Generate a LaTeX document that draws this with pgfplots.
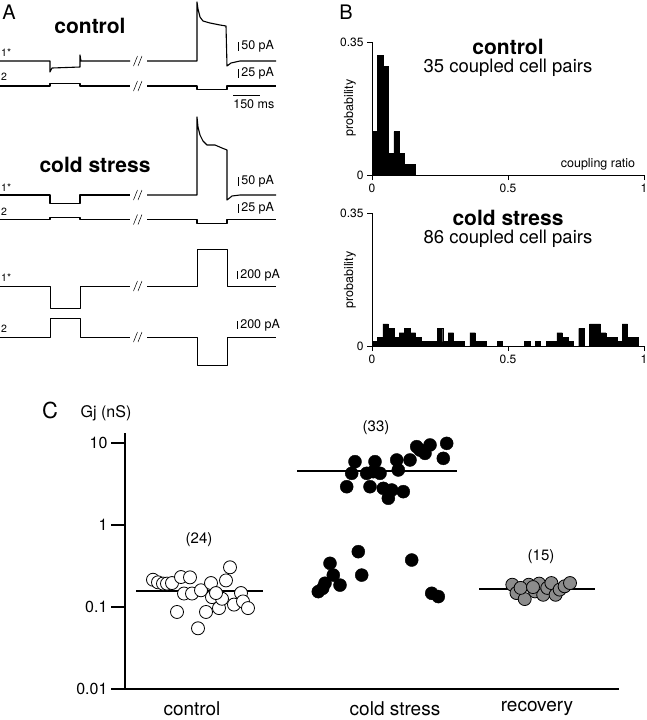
\documentclass[border=0pt]{standalone}
\usepackage{fontspec}
\setmainfont{TeX Gyre Heros}
\usepackage{pgfplots}
\pgfplotsset{compat=1.18}
\newcommand{\fs}[1]{\fontsize{#1}{#1}\selectfont}
\pgfplotsset{
  trace/.style={black, line width=1.1pt, mark=none, line join=round},
  hist/.style={scale only axis, width=272pt, height=133pt,
    xmin=0, xmax=1, ymin=0, ymax=0.35,
    axis x line*=bottom, axis y line*=left, axis line style={line width=1pt},
    xtick={0,0.5,1}, xticklabels={0,0.5,1}, ytick={0,0.35}, yticklabels={0,0.35},
    tick align=outside, major tick length=5pt, tick style={black, line width=1pt},
    ticklabel style={font=\fs{12}}, clip=false},
}

\begin{document}
\begin{tikzpicture}
\path[use as bounding box] (0pt,0pt) rectangle (646pt,-720pt);

% ---------------- A: traces (pixel units, y down)
\begin{axis}[at={(0pt,0pt)}, anchor=north west, scale only axis, width=280pt, height=380pt,
  xmin=0, xmax=280, ymin=0, ymax=380, y dir=reverse, hide axis, clip=false]
% control, cell 1*
\addplot[trace] coordinates {(0,61)(50,61)(50,72)(52,68)(80,67)(80,55)(81,61)(130,61)};
\addplot[trace] coordinates {(147,61)(197,61)(197,2)(198,9)(200,17)(203,21)(210,23)(220,25)(226,26)(227,66)(231,63)(240,61)(276,61)};
% control, cell 2
\addplot[trace] coordinates {(0,86)(50,86)(50,83.5)(80,83.5)(80,86)(130,86)};
\addplot[trace] coordinates {(147,86)(197,86)(197,89.5)(227,89.5)(227,86)(276,86)};
% cold stress, cell 1*
\addplot[trace] coordinates {(0,195)(50,195)(50,203.5)(80,203.5)(80,195)(130,195)};
\addplot[trace] coordinates {(147,195)(197,195)(197,117)(198,127)(200,135)(203,141)(207,145)(215,145)(222,148)(227,150)(227,200)(232,196)(240,195)(276,195)};
% cold stress, cell 2
\addplot[trace] coordinates {(0,219.5)(50,219.5)(50,217.5)(80,217.5)(80,219.5)(130,219.5)};
\addplot[trace] coordinates {(147,219.5)(197,219.5)(197,223.5)(227,223.5)(227,219.5)(276,219.5)};
% large steps
\addplot[trace, line width=0.7pt] coordinates {(0,286)(50,286)(50,308)(80,308)(80,286)(130,286)};
\addplot[trace, line width=0.7pt] coordinates {(147,286)(197,286)(197,249)(227,249)(227,286)(276,286)};
\addplot[trace, line width=0.7pt] coordinates {(0,337)(50,337)(50,318)(80,318)(80,337)(130,337)};
\addplot[trace, line width=0.7pt] coordinates {(147,337)(197,337)(197,365)(227,365)(227,337)(276,337)};
\end{axis}

\begin{scope}[x=1pt, y=1pt]
\foreach \yy in {61,86,195,219.5,286,337}{
  \draw[line width=0.5pt] (133.5,{-\yy-5}) -- (137.5,{-\yy+5});
  \draw[line width=0.5pt] (138,{-\yy-5}) -- (142,{-\yy+5});
}
\node[font=\fs{20}] at (9,-12) {A};
\node[font=\fs{21}\bfseries] at (90,-26) {control};
\node[font=\fs{21}\bfseries] at (95,-165) {cold stress};
\begin{scope}[every node/.style={anchor=west, inner sep=0, font=\fs{10.5}}]
\node at (1,-53) {1*};  \node at (1,-77) {2};
\node at (1,-188) {1*}; \node at (1,-212) {2};
\node at (1,-278) {1*}; \node at (1,-329) {2};
\end{scope}
\begin{scope}[line width=0.6pt, every node/.style={anchor=west, inner sep=0, font=\fs{12.5}}]
\draw (238,-42) -- (238,-51);   \node at (241,-46.5) {50 pA};
\draw (238,-69) -- (238,-78);   \node at (241,-73.5) {25 pA};
\draw (233,-95) -- (260,-95);   \node at (233,-104) {150 ms};
\draw (238,-177) -- (238,-186); \node at (241,-181.5) {50 pA};
\draw (238,-204) -- (238,-213); \node at (241,-208.5) {25 pA};
\draw (237,-271) -- (237,-279); \node at (240,-275) {200 pA};
\draw (237,-321) -- (237,-329); \node at (240,-325) {200 pA};
\end{scope}
\end{scope}

% ---------------- B: histograms
\begin{axis}[hist, at={(372pt,-175pt)}, anchor=south west]
\addplot[ybar interval, fill=black, draw=black] coordinates {
(0,0.1143)(0.02,0.3143)(0.04,0.2857)(0.06,0.0571)(0.08,0.1143)(0.10,0.0571)(0.12,0.0286)(0.14,0.0286)(0.16,0)};
\end{axis}

\begin{axis}[hist, at={(372pt,-346pt)}, anchor=south west]
\addplot[ybar interval, fill=black, draw=black] coordinates {
(0,0.0116)(0.02,0.0233)(0.04,0.0581)(0.06,0.0465)(0.08,0.0233)(0.10,0.0349)(0.12,0.0465)(0.14,0.0349)(0.16,0.0233)(0.18,0.0116)
(0.20,0.0116)(0.22,0.0116)(0.24,0.0465)(0.26,0.0116)(0.28,0.0349)(0.30,0.0116)(0.32,0.0116)(0.34,0)(0.36,0.0349)(0.38,0.0116)
(0.40,0.0116)(0.42,0)(0.44,0)(0.46,0.0116)(0.48,0)(0.50,0)(0.52,0)(0.54,0)(0.56,0.0116)(0.58,0)
(0.60,0.0116)(0.62,0)(0.64,0.0116)(0.66,0.0116)(0.68,0.0349)(0.70,0.0233)(0.72,0.0116)(0.74,0)(0.76,0.0465)(0.78,0)
(0.80,0.0581)(0.82,0.0581)(0.84,0.0349)(0.86,0.0233)(0.88,0.0233)(0.90,0.0116)(0.92,0.0581)(0.94,0.0233)(0.96,0.0233)(0.98,0)
(1.00,0)};
\end{axis}

\begin{scope}[x=1pt, y=1pt]
\node[font=\fs{20}] at (346,-12) {B};
\node[font=\fs{21}\bfseries] at (508,-47) {control};
\node[font=\fs{18.5}] at (508,-68) {35 coupled cell pairs};
\node[font=\fs{21}\bfseries] at (508,-218) {cold stress};
\node[font=\fs{18.5}] at (508,-239) {86 coupled cell pairs};
\node[rotate=90, font=\fs{12.5}] at (350,-108) {probability};
\node[rotate=90, font=\fs{12.5}] at (350,-280) {probability};
\node[font=\fs{12.5}] at (598,-164) {coupling ratio};
\end{scope}

% ---------------- C: junctional conductance
\begin{axis}[at={(125pt,-689pt)}, anchor=south west, scale only axis, width=494pt, height=256pt,
  xmin=125, xmax=619, ymode=log, ymin=0.01, ymax=13.24,
  axis x line*=bottom, axis y line*=left, axis line style={line width=1.6pt},
  ytick={0.01,0.1,1,10}, yticklabels={0.01,0.1,1,10}, yminorticks=false,
  xtick={192,395,537}, xticklabels={control,cold stress,recovery},
  tick align=outside, major tick length=14pt,
  y tick style={line width=1.6pt, black}, x tick style={draw=none},
  yticklabel style={font=\fs{16}}, xticklabel style={font=\fs{19}, yshift=5pt},
  clip=false]
% control
\addplot[only marks, mark=*, mark size=6.5pt, mark options={draw=black, fill=white, line width=0.8pt}] coordinates {
(153,0.215)(158,0.200)(163,0.193)(167,0.193)(172,0.196)(181,0.232)(190,0.230)(177,0.087)
(184,0.146)(192,0.146)(201,0.160)(198,0.055)(206,0.087)(211,0.196)(212,0.132)(219,0.097)
(222,0.126)(226,0.211)(230,0.305)(234,0.107)(241,0.148)(243,0.117)(248,0.097)(216,0.148)};
\addplot[black, line width=2pt, mark=none] coordinates {(136,0.155)(263,0.155)};
% cold stress
\addplot[only marks, mark=*, mark size=6.5pt, mark options={draw=black, fill=black}] coordinates {
(355,5.92)(351.7,4.27)(346.7,2.93)(375,5.92)(366.7,4.27)(380,4.27)(370,2.93)(383.3,2.80)
(388.3,2.12)(391.7,2.67)(403.3,2.55)(396.7,6.21)(398.3,4.69)(410,6.21)(416.7,9.02)(425,7.48)
(430,9.46)(446.7,9.90)(443.3,6.50)(373.3,4.47)(420,8.20)
(330,0.341)(333.3,0.245)(325,0.195)(318.3,0.154)(340,0.185)(322.7,0.169)
(358.3,0.473)(361.7,0.245)(411.7,0.374)(431.7,0.147)(438.3,0.134)};
\addplot[black, line width=2pt, mark=none] coordinates {(297,4.5)(457,4.5)};
% recovery
\addplot[only marks, mark=*, mark size=6.5pt, mark options={draw=black, fill=black!45, line width=0.8pt}] coordinates {
(512.3,0.187)(516.5,0.148)(524.7,0.125)(528.8,0.187)(535,0.155)(539.1,0.193)(543.2,0.141)(547.3,0.171)
(551.4,0.196)(555.6,0.141)(559.7,0.163)(564.6,0.179)(570,0.196)(520.6,0.171)(533,0.175)};
\addplot[black, line width=2pt, mark=none] coordinates {(479,0.166)(595,0.166)};
\end{axis}

\begin{scope}[x=1pt, y=1pt]
\node[font=\fs{22}] at (50,-410) {C};
\node[font=\fs{16}] at (106,-413) {Gj (nS)};
\node[font=\fs{15}] at (199,-540) {(24)};
\node[font=\fs{15}] at (376,-428) {(33)};
\node[font=\fs{15}] at (541,-557) {(15)};
\end{scope}
\end{tikzpicture}
\end{document}
